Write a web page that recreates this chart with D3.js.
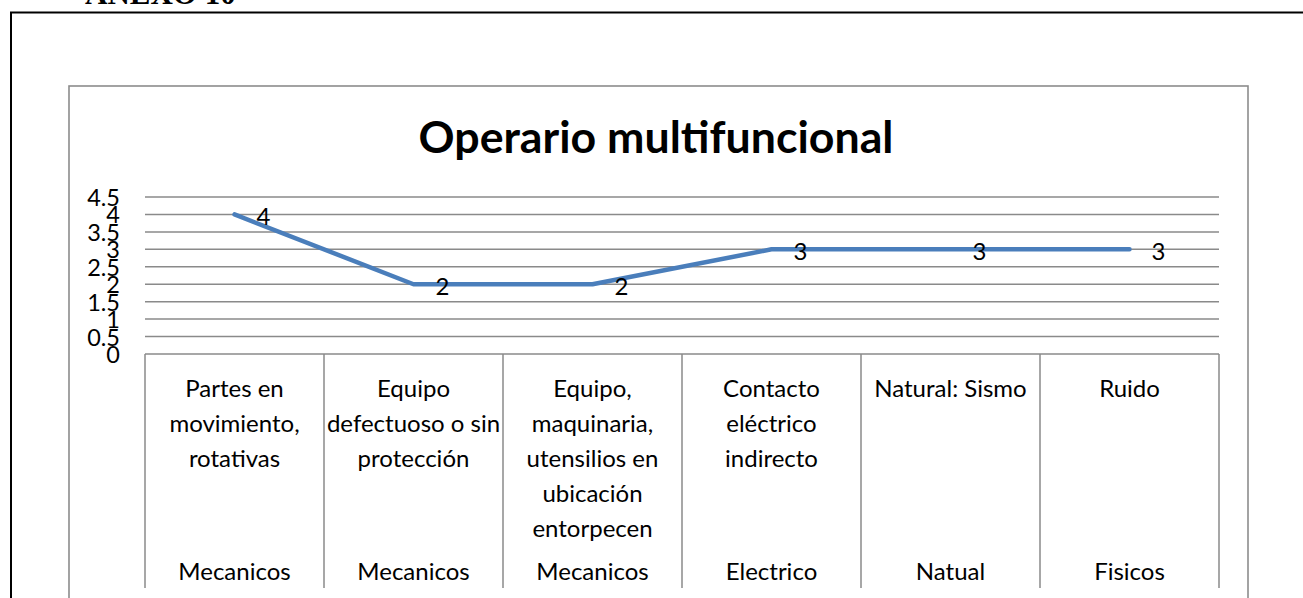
<!DOCTYPE html>
<html>
<head>
<meta charset="utf-8">
<script src="https://cdn.jsdelivr.net/npm/d3@7"></script>
<style>
  html, body { margin: 0; padding: 0; background: #fff; }
  svg { display: block; }
</style>
</head>
<body>
<svg id="chart" width="1303" height="598"></svg>
<script>
// Chart data
const title = "Operario multifuncional";
const heading = "ANEXO 10";
const categories = [
  "Partes en\nmovimiento,\nrotativas",
  "Equipo\ndefectuoso o sin\nprotección",
  "Equipo,\nmaquinaria,\nutensilios en\nubicación\nentorpecen",
  "Contacto\neléctrico\nindirecto",
  "Natural: Sismo",
  "Ruido"
];
const groups = ["Mecanicos", "Mecanicos", "Mecanicos", "Electrico", "Natual", "Fisicos"];
const values = [4, 2, 2, 3, 3, 3];
const tickValues = [0, 0.5, 1, 1.5, 2, 2.5, 3, 3.5, 4, 4.5];
const tickLabels = ["0", "0.5", "1", "1.5", "2", "2.5", "3", "3.5", "4", "4.5"];

const svg = d3.select("#chart");
const FONT = "Lato, 'Open Sans', sans-serif";
const GRID = "#8a8a8a";
const FS = 24;

// Page frame and heading
svg.append("text")
  .attr("x", 85).attr("y", 4)
  .attr("font-family", "'Liberation Serif', 'Times New Roman', serif")
  .attr("font-weight", "bold")
  .attr("font-size", 31)
  .attr("fill", "#000")
  .text(heading);

svg.append("rect")
  .attr("x", 11).attr("y", 12.5)
  .attr("width", 1400).attr("height", 700)
  .attr("fill", "none").attr("stroke", "#000").attr("stroke-width", 2);

// Chart area border
svg.append("rect")
  .attr("x", 69).attr("y", 86)
  .attr("width", 1248 - 69).attr("height", 700)
  .attr("fill", "#fff").attr("stroke", "#8c8c8c").attr("stroke-width", 1.6);

// Scales
const plotLeft = 145, plotRight = 1219, plotBottom = 354, plotTop = 197;
const x = d3.scaleBand().domain(d3.range(categories.length)).range([plotLeft, plotRight]).padding(0);
const y = d3.scaleLinear().domain([0, 4.5]).range([plotBottom, plotTop]);
const cx = i => x(i) + x.bandwidth() / 2;

// Title
const titleText = svg.append("text")
  .attr("x", 656).attr("y", 153)
  .attr("text-anchor", "middle")
  .attr("font-family", FONT)
  .attr("font-weight", "bold")
  .attr("font-size", 40)
  .attr("fill", "#000")
  .text(title);
const tw = titleText.node().getComputedTextLength();
titleText.attr("font-size", 40 * 475 / tw);

// Horizontal gridlines
svg.append("g")
  .selectAll("line")
  .data(tickValues.filter(v => v > 0))
  .join("line")
  .attr("x1", plotLeft).attr("x2", plotRight)
  .attr("y1", d => y(d)).attr("y2", d => y(d))
  .attr("stroke", GRID).attr("stroke-width", 1.5);

// Y axis labels
const yAxis = d3.axisLeft(y).tickValues(tickValues)
  .tickFormat((d, i) => tickLabels[i]).tickSize(0).tickPadding(0);
const yg = svg.append("g").attr("transform", "translate(120,0)").call(yAxis);
yg.select(".domain").remove();
yg.selectAll("text")
  .attr("font-family", FONT).attr("font-size", 23.5).attr("fill", "#000")
  .attr("dy", "0.36em");

// Category table (multi-level axis)
const tableBottom = 588;
const axisG = svg.append("g");
axisG.append("line")
  .attr("x1", plotLeft).attr("x2", plotRight)
  .attr("y1", plotBottom).attr("y2", plotBottom)
  .attr("stroke", GRID).attr("stroke-width", 1.5);
axisG.selectAll("line.sep")
  .data(d3.range(categories.length + 1))
  .join("line")
  .attr("class", "sep")
  .attr("x1", i => i < categories.length ? x(i) : plotRight)
  .attr("x2", i => i < categories.length ? x(i) : plotRight)
  .attr("y1", plotBottom).attr("y2", tableBottom)
  .attr("stroke", GRID).attr("stroke-width", 1.5);

// Inner category labels (wrapped lines)
const lineH = 35;
axisG.selectAll("text.cat")
  .data(categories)
  .join("text")
  .attr("class", "cat")
  .attr("text-anchor", "middle")
  .attr("font-family", FONT).attr("font-size", FS).attr("fill", "#000")
  .each(function(d, i) {
    const t = d3.select(this);
    d.split("\n").forEach((ln, k) => {
      t.append("tspan").attr("x", cx(i)).attr("y", 397 + k * lineH).text(ln);
    });
  });

// Outer group labels
axisG.selectAll("text.grp")
  .data(groups)
  .join("text")
  .attr("class", "grp")
  .attr("x", (d, i) => cx(i)).attr("y", 580)
  .attr("text-anchor", "middle")
  .attr("font-family", FONT).attr("font-size", FS).attr("fill", "#000")
  .text(d => d);

// Series line
const line = d3.line().x((d, i) => cx(i)).y(d => y(d));
svg.append("path")
  .datum(values)
  .attr("d", line)
  .attr("fill", "none")
  .attr("stroke", "#4a7ebb")
  .attr("stroke-width", 4.5)
  .attr("stroke-linejoin", "round")
  .attr("stroke-linecap", "round");

// Data labels
svg.append("g")
  .selectAll("text")
  .data(values)
  .join("text")
  .attr("x", (d, i) => cx(i) + 22)
  .attr("y", d => y(d) + 2)
  .attr("dy", "0.36em")
  .attr("font-family", FONT).attr("font-size", FS).attr("fill", "#000")
  .text(d => d);
</script>
</body>
</html>
